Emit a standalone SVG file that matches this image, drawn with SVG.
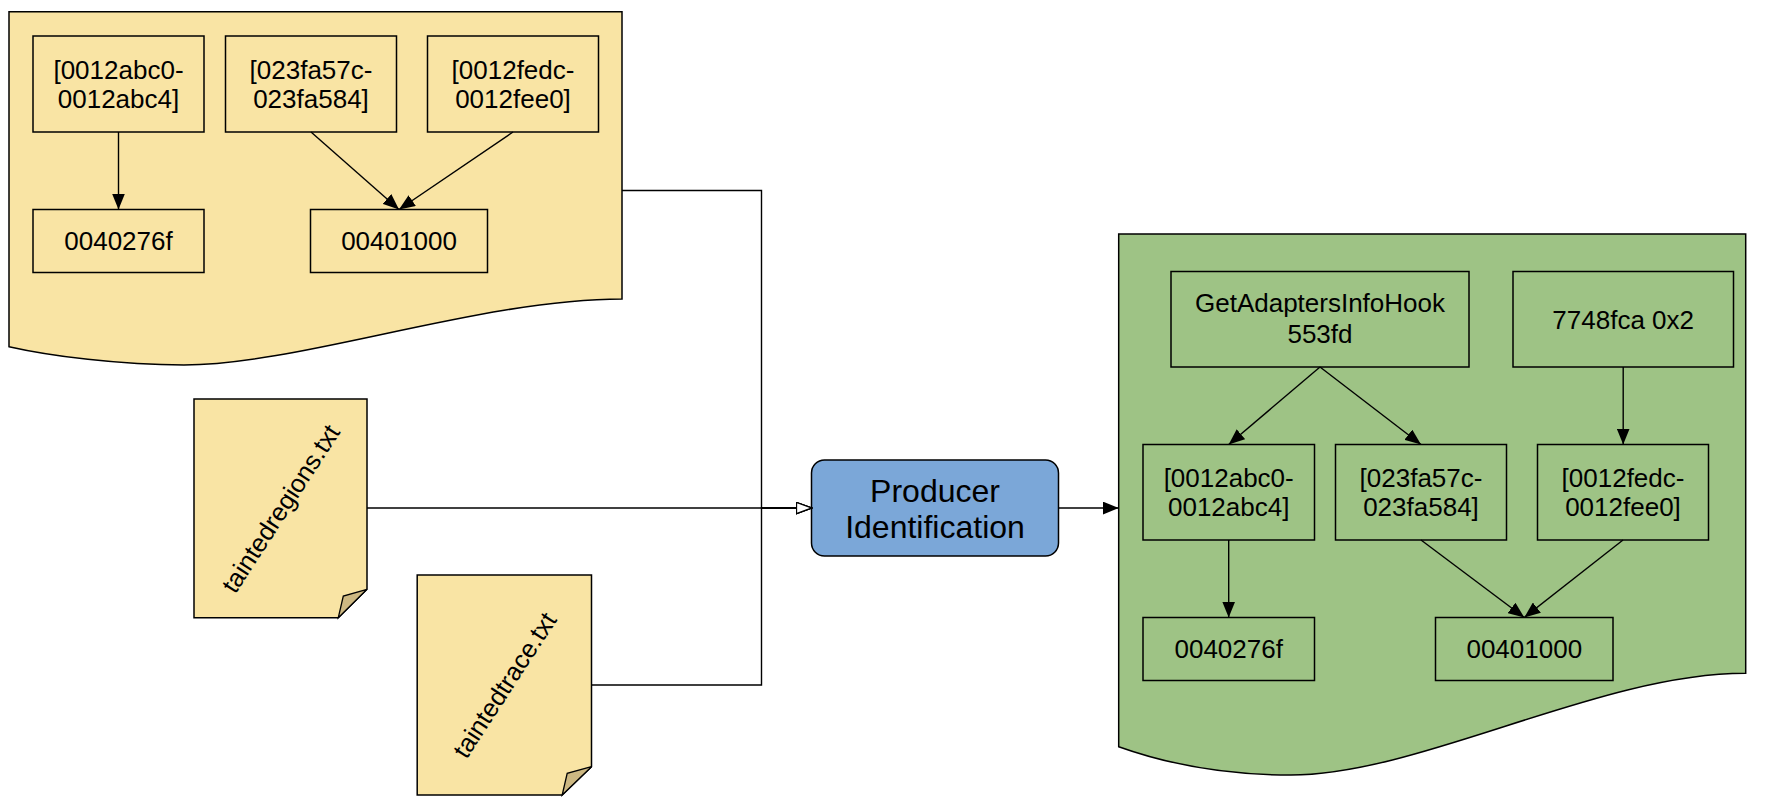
<svg xmlns="http://www.w3.org/2000/svg" width="1766" height="812" viewBox="0 0 1766 812">
<defs>
<marker id="arr" viewBox="0 0 16 13" refX="16" refY="6.5" markerWidth="16" markerHeight="13" markerUnits="userSpaceOnUse" orient="auto">
<path d="M0,0 L16,6.5 L0,13 Z" fill="#000"/>
</marker>
<marker id="open" viewBox="0 0 17 13" refX="16" refY="6.5" markerWidth="17" markerHeight="13" markerUnits="userSpaceOnUse" orient="auto">
<path d="M1,1 L16,6.5 L1,12 Z" fill="#fff" stroke="#000" stroke-width="1.3"/>
</marker>
</defs>
<style>
text{font-family:"Liberation Sans",Arial,sans-serif;fill:#000}
.t{font-size:26px;text-anchor:middle}
.big{font-size:32px;text-anchor:middle}
.rot{font-size:25.5px;text-anchor:middle}
.yl{fill:#F9E4A4;stroke:#000;stroke-width:1.5}
.gr{fill:#9EC385;stroke:#000;stroke-width:1.5}
.fold{fill:#CDB882;stroke:#000;stroke-width:1.3}
.c{fill:none;stroke:#000;stroke-width:1.4}
</style>
<rect width="1766" height="812" fill="#fff"/>

<g id="yellow-doc">
<path class="yl" d="M9,11.7 H622 V299 C480,299 300,365 184,365 C120,365 50,356 9,346.7 Z"/>
</g>
<g id="y-a1"><rect class="yl" x="33" y="36" width="171" height="96"/><text class="t" x="118.5" y="79">[0012abc0-</text><text class="t" x="118.5" y="108">0012abc4]</text></g>
<g id="y-a2"><rect class="yl" x="225.5" y="36" width="171" height="96"/><text class="t" x="311" y="79">[023fa57c-</text><text class="t" x="311" y="108">023fa584]</text></g>
<g id="y-a3"><rect class="yl" x="427.5" y="36" width="171" height="96"/><text class="t" x="513" y="79">[0012fedc-</text><text class="t" x="513" y="108">0012fee0]</text></g>
<g id="y-a4"><rect class="yl" x="33" y="209.5" width="171" height="63"/><text class="t" x="118.5" y="250">0040276f</text></g>
<g id="y-a5"><rect class="yl" x="310.5" y="209.5" width="177" height="63"/><text class="t" x="399" y="250">00401000</text></g>

<g id="taintedregions">
<path class="yl" d="M194,399 H367 V589.3 L338.3,617.7 H194 Z"/>
<path class="fold" d="M338.3,617.7 L343.3,596 L367,589.3 Z"/>
<text class="rot" transform="translate(280.5,508.5) rotate(-57)" x="0" y="9">taintedregions.txt</text>
</g>
<g id="taintedtrace">
<path class="yl" d="M417.2,575 H591.5 V766.7 L562.2,795 H417.2 Z"/>
<path class="fold" d="M562.2,795 L567.2,773.3 L591.5,766.7 Z"/>
<text class="rot" transform="translate(504.4,685) rotate(-57)" x="0" y="9">taintedtrace.txt</text>
</g>

<g id="producer">
<rect x="811.5" y="460" width="247" height="96" rx="13" ry="13" fill="#7BA7D8" stroke="#000" stroke-width="1.5"/>
<text class="big" x="935" y="501.5">Producer</text>
<text class="big" x="935" y="538">Identification</text>
</g>

<g id="green-doc">
<path class="gr" d="M1118.7,234 H1745.7 V673.3 C1600,673 1420,775 1291,775 C1230,775 1170,765 1118.7,746.7 Z"/>
</g>
<g id="g-hook"><rect class="gr" x="1171" y="271.5" width="298" height="95.5"/><text class="t" x="1320" y="312">GetAdaptersInfoHook</text><text class="t" x="1320" y="343">553fd</text></g>
<g id="g-7748"><rect class="gr" x="1513" y="271.5" width="220.5" height="95.5"/><text class="t" x="1623.2" y="328.5">7748fca 0x2</text></g>
<g id="g-b1"><rect class="gr" x="1143" y="444.5" width="171.5" height="95.5"/><text class="t" x="1228.7" y="487">[0012abc0-</text><text class="t" x="1228.7" y="516">0012abc4]</text></g>
<g id="g-b2"><rect class="gr" x="1335.5" y="444.5" width="171" height="95.5"/><text class="t" x="1421" y="487">[023fa57c-</text><text class="t" x="1421" y="516">023fa584]</text></g>
<g id="g-b3"><rect class="gr" x="1537.5" y="444.5" width="171" height="95.5"/><text class="t" x="1623" y="487">[0012fedc-</text><text class="t" x="1623" y="516">0012fee0]</text></g>
<g id="g-b4"><rect class="gr" x="1143" y="617.5" width="171.5" height="63"/><text class="t" x="1228.7" y="658">0040276f</text></g>
<g id="g-b5"><rect class="gr" x="1435.5" y="617.5" width="177.5" height="63"/><text class="t" x="1524.3" y="658">00401000</text></g>

<g id="connectors">
<path class="c" d="M118.5,132 V209.5" marker-end="url(#arr)"/>
<path class="c" d="M311,132 L399,209.5" marker-end="url(#arr)"/>
<path class="c" d="M513,132 L399,209.5" marker-end="url(#arr)"/>
<path class="c" d="M622,190.5 H761.5 V508 H811.5" marker-end="url(#open)"/>
<path class="c" d="M591.5,685 H761.5 V508 H811.5" marker-end="url(#open)"/>
<path class="c" d="M367,508 H811.5" marker-end="url(#open)"/>
<path class="c" d="M1058.5,508 H1118.7" marker-end="url(#arr)"/>
<path class="c" d="M1320,367 L1228.7,444.5" marker-end="url(#arr)"/>
<path class="c" d="M1320,367 L1421,444.5" marker-end="url(#arr)"/>
<path class="c" d="M1623.2,367 V444.5" marker-end="url(#arr)"/>
<path class="c" d="M1228.7,540 V617.5" marker-end="url(#arr)"/>
<path class="c" d="M1421,540 L1524.3,617.5" marker-end="url(#arr)"/>
<path class="c" d="M1623,540 L1524.3,617.5" marker-end="url(#arr)"/>
</g>
</svg>
